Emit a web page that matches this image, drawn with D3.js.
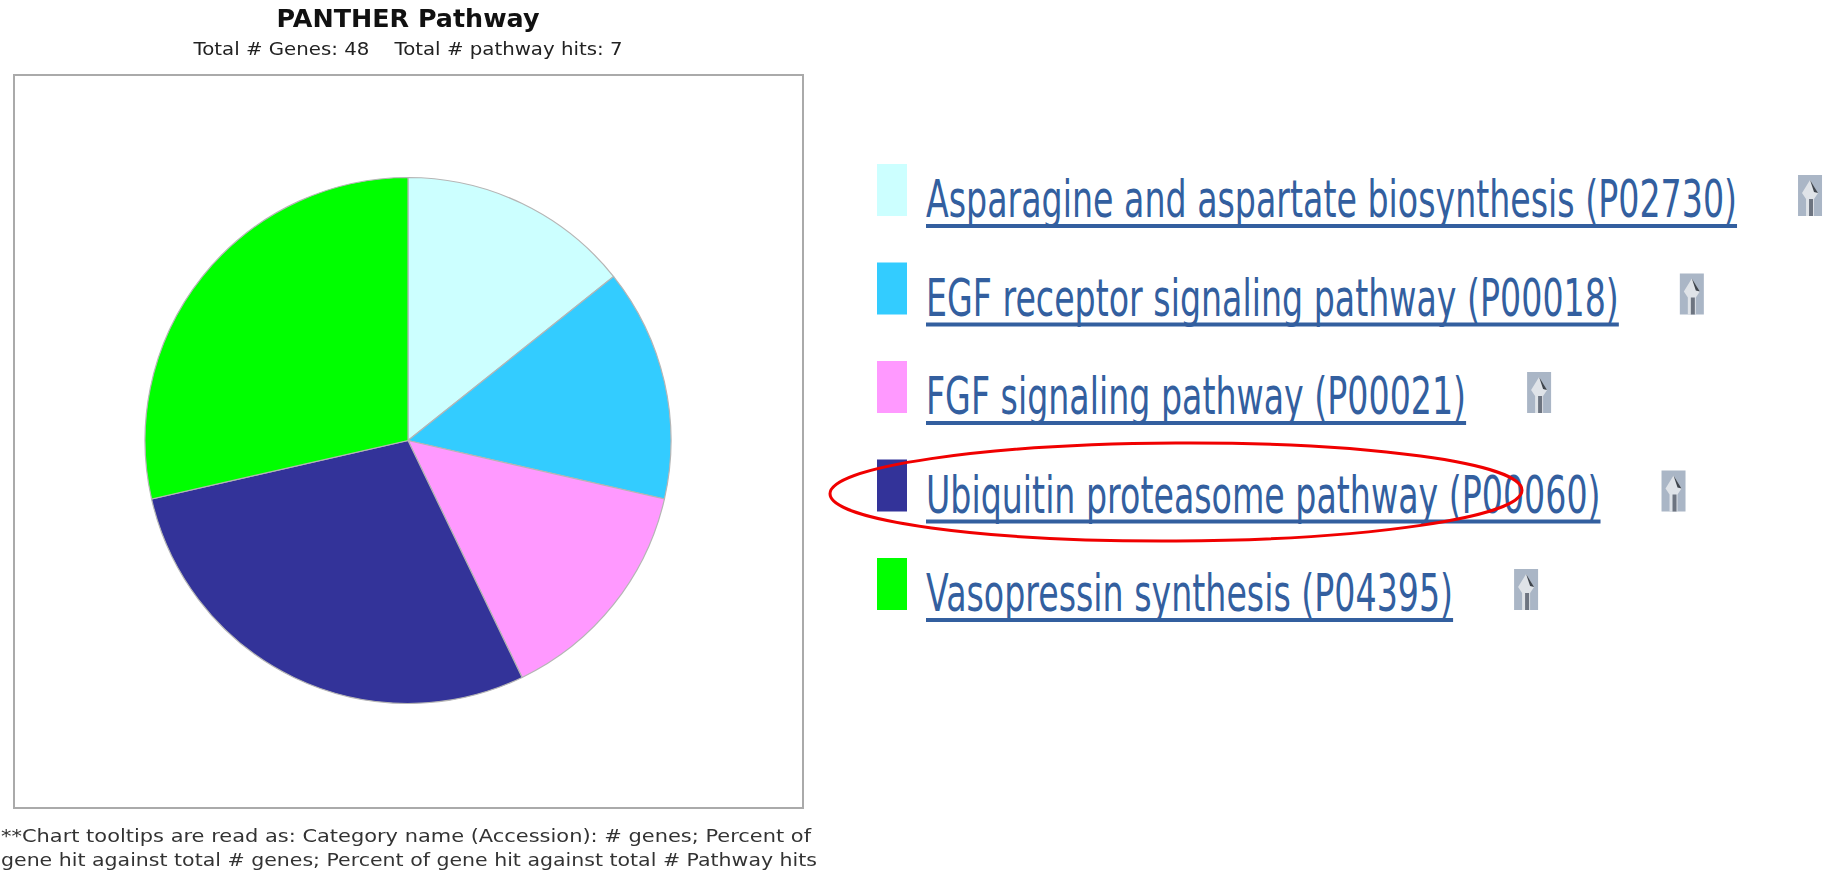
<!DOCTYPE html>
<html>
<head>
<meta charset="utf-8">
<title>PANTHER Pathway</title>
<script src="https://cdn.jsdelivr.net/npm/d3@7"></script>
<style>
  html, body { margin: 0; padding: 0; background: #fff; overflow: hidden; }
  svg { display: block; font-family: "DejaVu Sans", sans-serif; }
</style>
</head>
<body>
<div id="chart"></div>
<script>
  // gene hits per pathway (7 hits in total)
  const pathways = [
    "Asparagine and aspartate biosynthesis",
    "EGF receptor signaling pathway",
    "FGF signaling pathway",
    "Ubiquitin proteasome pathway",
    "Vasopressin synthesis"
  ];
  const accessions = ["P02730", "P00018", "P00021", "P00060", "P04395"];
  const geneHits = [1, 1, 1, 2, 2];
  const sliceColors = ["#ccffff", "#33ccff", "#ff99ff", "#333399", "#00ff00"];

  const titleText = "PANTHER Pathway";
  const subtitleText = "Total # Genes: 48    Total # pathway hits: 7";
  const noteLines = [
    "**Chart tooltips are read as: Category name (Accession): # genes; Percent of",
    "gene hit against total # genes; Percent of gene hit against total # Pathway hits"
  ];

  const WIDTH = 1833;
  const HEIGHT = 871;

  // chart box on the left
  const box = { x: 14, y: 75, w: 789, h: 733 };
  const pieCx = 408;
  const pieCy = 440.5;
  const pieR = 263;

  // legend on the right
  const swatchX = 877;
  const swatchW = 30;
  const swatchH = 52;
  const labelX = 926;
  const labelSize = 51;
  const labelStretch = 0.652;
  const linkColor = "#335f9f";

  const svg = d3.select("#chart").append("svg")
    .attr("width", WIDTH)
    .attr("height", HEIGHT);

  // Title block
  const textBlur = "blur(0.35px)";

  svg.append("text")
    .attr("x", pieCx)
    .attr("y", 27)
    .attr("text-anchor", "middle")
    .attr("textLength", 263)
    .attr("lengthAdjust", "spacingAndGlyphs")
    .style("font-size", "24px")
    .style("font-weight", "700")
    .style("fill", "#111")
    .style("filter", textBlur)
    .text(titleText);

  svg.append("text")
    .attr("x", pieCx)
    .attr("y", 55)
    .attr("text-anchor", "middle")
    .attr("textLength", 429)
    .attr("lengthAdjust", "spacingAndGlyphs")
    .style("white-space", "pre")
    .style("font-size", "17px")
    .style("fill", "#222")
    .style("filter", textBlur)
    .text(subtitleText);

  // Box
  svg.append("rect")
    .attr("x", box.x)
    .attr("y", box.y)
    .attr("width", box.w)
    .attr("height", box.h)
    .attr("fill", "#fff")
    .attr("stroke", "#aaa")
    .attr("stroke-width", 2);

  // Pie, clockwise from twelve o'clock in data order
  const pie = d3.pie().sort(null).value(d => d)(geneHits);
  const arc = d3.arc().innerRadius(0).outerRadius(pieR);

  svg.append("g")
    .attr("transform", `translate(${pieCx}, ${pieCy})`)
    .selectAll("path")
    .data(pie)
    .enter()
    .append("path")
    .attr("d", arc)
    .attr("fill", (d, i) => sliceColors[i])
    .attr("stroke", "#b5b5b5")
    .attr("stroke-width", 1.2);

  // Footnote
  svg.selectAll("text.note")
    .data(noteLines)
    .enter()
    .append("text")
    .attr("class", "note")
    .attr("x", 1)
    .attr("y", (d, i) => 842 + i * 24)
    .attr("textLength", d => d.startsWith("**") ? 810 : 816)
    .attr("lengthAdjust", "spacingAndGlyphs")
    .style("font-size", "17px")
    .style("fill", "#333")
    .style("filter", textBlur)
    .text(d => d);

  // Legend
  const rowY = d3.scalePoint()
    .domain(pathways)
    .range([164, 558]);

  const rows = svg.selectAll("g.row")
    .data(pathways)
    .enter()
    .append("g")
    .attr("class", "row")
    .attr("transform", d => `translate(0, ${rowY(d)})`);

  rows.append("rect")
    .attr("x", swatchX)
    .attr("width", swatchW)
    .attr("height", swatchH)
    .attr("fill", (d, i) => sliceColors[i]);

  const labels = rows.append("text")
    .attr("transform", `translate(${labelX}, 53) scale(${labelStretch}, 1)`)
    .style("font-size", `${labelSize}px`)
    .style("fill", linkColor)
    .text((d, i) => `${d} (${accessions[i]})`);

  labels.each(function () {
    const w = this.getComputedTextLength() * labelStretch;
    const row = d3.select(this.parentNode);

    // link underline
    row.append("rect")
      .attr("x", labelX)
      .attr("y", 60)
      .attr("width", w)
      .attr("height", 4)
      .attr("fill", linkColor);

    // small arrow icon after the link
    const icon = row.append("g")
      .attr("transform", `translate(${labelX + w + 61}, 11)`);

    icon.append("rect")
      .attr("width", 24)
      .attr("height", 41)
      .attr("fill", "#aab6c6");
    icon.append("path")
      .attr("d", "M12 5 L20 18 L16 24 L16 41 L8 41 L8 24 L4 18 Z")
      .attr("fill", "#dfe3e8");
    icon.append("rect")
      .attr("x", 11)
      .attr("y", 24)
      .attr("width", 4)
      .attr("height", 17)
      .attr("fill", "#6d7480");
    icon.append("path")
      .attr("d", "M12 5 L20 18 L16 17 Z")
      .attr("fill", "#3f454d");
  });

  // Red hand-drawn ring round the Ubiquitin row
  svg.append("ellipse")
    .attr("cx", 1176)
    .attr("cy", 492)
    .attr("rx", 346)
    .attr("ry", 49)
    .attr("transform", "rotate(-0.3 1176 492)")
    .attr("fill", "none")
    .attr("stroke", "#f00000")
    .attr("stroke-width", 3);
</script>
</body>
</html>
